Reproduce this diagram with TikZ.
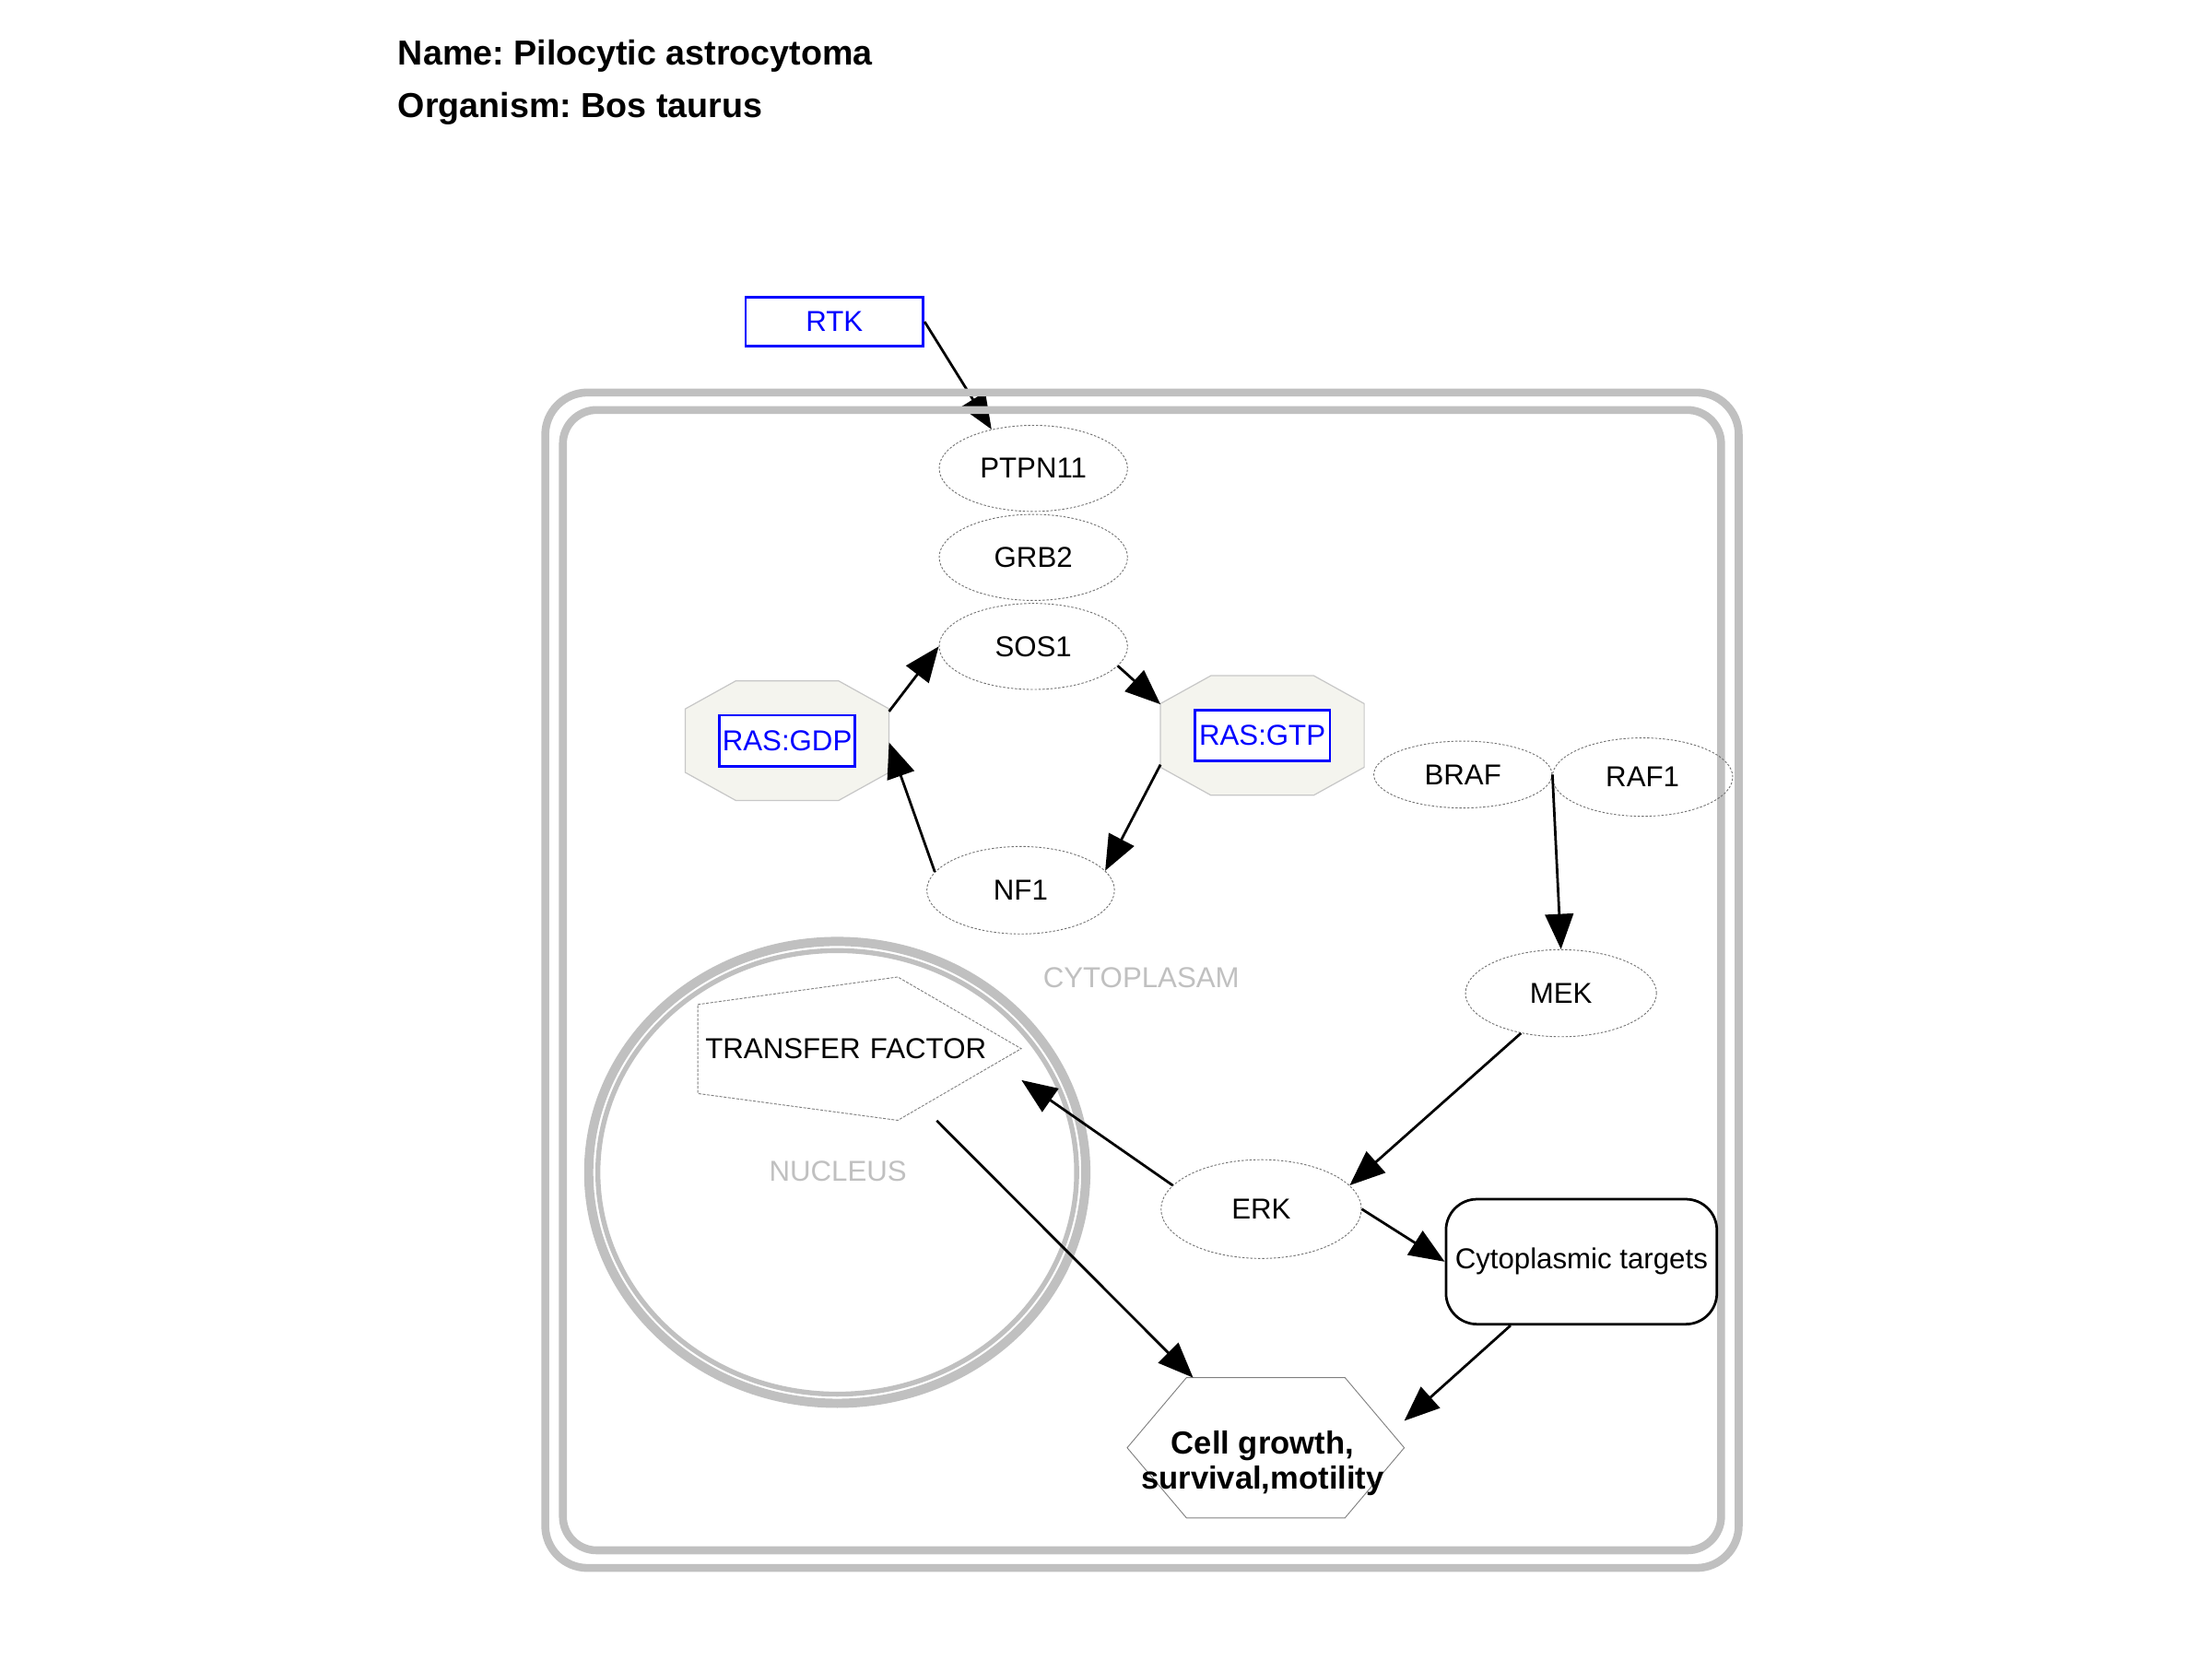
\documentclass[tikz,border=0pt]{standalone}
\usepackage{fontspec}
\setmainfont{Liberation Sans}
\usepackage{tikz}
\usetikzlibrary{arrows.meta,shapes.geometric,calc,positioning}
\definecolor{cgray}{RGB}{192,192,192}
\definecolor{cblue}{RGB}{0,0,255}
\definecolor{cocta}{RGB}{244,244,238}
\newcommand{\nodefont}{\fontsize{20.4}{24}\selectfont}
\newcommand{\octagonof}[1]{%
  \filldraw[oct line] ($(#1.north west)+(35.7,0)$) -- ($(#1.north east)+(-35.7,0)$)
    -- ($(#1.north east)+(0,19.8)$) -- ($(#1.south east)+(0,-19.8)$)
    -- ($(#1.south east)+(-35.7,0)$) -- ($(#1.south west)+(35.7,0)$)
    -- ($(#1.south west)+(0,-19.8)$) -- ($(#1.north west)+(0,19.8)$) -- cycle;}
\frenchspacing

\begin{document}
\begin{tikzpicture}[x=1pt,y=-1pt,>={Triangle[length=25pt,width=20pt]},font=\nodefont,
  gene node/.style={ellipse,draw=black!55,dash pattern=on 1.6pt off 1.2pt,line width=0.6pt,
    minimum width=133.5pt,minimum height=61pt,inner sep=0pt},
  blue box/.style={rectangle,draw=cblue,fill=white,line width=1.8pt,text=cblue,inner sep=0pt,
    minimum width=95.8pt,minimum height=36pt},
  oct box/.style={rectangle,inner sep=0pt,minimum width=144pt,minimum height=84.3pt},
  oct line/.style={draw=black!22,fill=cocta,line width=0.8pt},
  target node/.style={rectangle,draw,line width=1.8pt,rounded corners=22pt,
    minimum width=192pt,minimum height=88.6pt,inner sep=0pt},
  growth node/.style={rectangle,inner sep=0pt,minimum width=196pt,minimum height=99pt},
  growth text/.style={align=center,inner sep=0pt,font=\bfseries\fontsize{22.6}{25}\selectfont},
  factor node/.style={rectangle,inner xsep=5.4pt,inner ysep=0pt,text width=218.5pt,
    align=left,minimum height=101.6pt},
  poly line/.style={draw=black!50,line width=0.6pt},
  room label/.style={text=cgray},
  title node/.style={anchor=base west,inner sep=0pt,font=\bfseries\fontsize{24.6}{29}\selectfont},
  membrane/.style={draw=cgray,line width=5.6pt},
  arrow line/.style={->,line width=1.8pt}]

  \useasboundingbox (0,0) rectangle (1568,1176);

  \node[title node] (name) at (282,46) {Name: Pilocytic astrocytoma};
  \node[title node] (organism) at (282,83) {Organism: Bos taurus};

  \node[blue box,minimum width=126pt,minimum height=35pt] (rtk) at (591.5,228) {RTK};
  \node[gene node] (ptpn11) at (732.5,332) {PTPN11};
  \draw[arrow line] (rtk.east) -- (ptpn11.137);

  % cell and nucleus
  \draw[membrane,rounded corners=30pt] (386.5,278.2) rectangle (1232.5,1111.4);
  \draw[membrane,rounded corners=24pt] (399,290.6) rectangle (1220,1098.9);
  \draw[cgray,line width=6.5pt] (593.5,831) ellipse [x radius=176.2pt,y radius=163.7pt];
  \draw[cgray,line width=3.5pt] (593.5,831) ellipse [x radius=169.7pt,y radius=157.2pt];
  \node[room label] (cytoplasm) at (809,693) {CYTOPLASAM};
  \node[room label] (nucleus) at (594,830) {NUCLEUS};

  \node[gene node] (grb2) [below=1.5pt of ptpn11] {GRB2};
  \node[gene node] (sos1) [below=1.5pt of grb2] {SOS1};

  \node[oct box] (gdp) at (558,525) {};
  \octagonof{gdp}
  \node[blue box] (gdptext) at (gdp) {RAS:GDP};
  \node[oct box] (gtp) at (894.8,521.3) {};
  \octagonof{gtp}
  \node[blue box] (gtptext) at (gtp) {RAS:GTP};

  \node[gene node,minimum width=133pt,minimum height=62pt] (nf1) at (723.5,631) {NF1};
  \node[gene node,minimum width=126.3pt,minimum height=47.4pt] (braf) at (1037,549) {BRAF};
  \node[gene node,minimum width=127.9pt,minimum height=55.6pt] (raf1) at (1164.3,550.8) {RAF1};
  \node[gene node,minimum width=135.4pt,minimum height=61.7pt] (mek) at (1106.5,704) {MEK};
  \node[gene node,minimum width=142pt,minimum height=70pt] (erk) at (894,857) {ERK};
  \node[target node] (cyto) at (1121,894.3) {Cytoplasmic targets};

  \draw[poly line,dash pattern=on 2pt off 1pt] (494.6,712) -- (636.4,692.5) -- (723.9,743.3)
    -- (636.4,794.1) -- (494.6,775.1) -- cycle;
  \node[factor node] (tf) at (609.25,743.3) {TRANSFER FACTOR};

  \node[growth node] (cg) at (897.2,1026.2) {};
  \draw[poly line] ($(cg.north west)+(42,0)$) -- ($(cg.north east)+(-42,0)$) -- (cg.east)
    -- ($(cg.south east)+(-42,0)$) -- ($(cg.south west)+(42,0)$) -- (cg.west) -- cycle;
  \node[growth text] (cgtext) at (895,1037) {Cell growth,\\survival,motility};

  \draw[arrow line] (gdp.16) -- (sos1.west);
  \draw[arrow line] (sos1.-13) -- (gtp.163);
  \draw[arrow line] (gtp.196) -- (nf1.13);
  \draw[arrow line] (nf1.168) -- (gdp.-1);
  \draw[arrow line] (braf.east) -- (mek.north);
  \draw[arrow line] (mek.225) -- (erk.15);
  \draw[arrow line] (erk.165) -- (tf.-11);
  \draw[arrow line] (erk.east) -- (cyto.west);
  \draw[arrow line] (tf.-43) -- (cg.136);
  \draw[arrow line] (cyto.222) -- (cg.11);
\end{tikzpicture}
\end{document}
